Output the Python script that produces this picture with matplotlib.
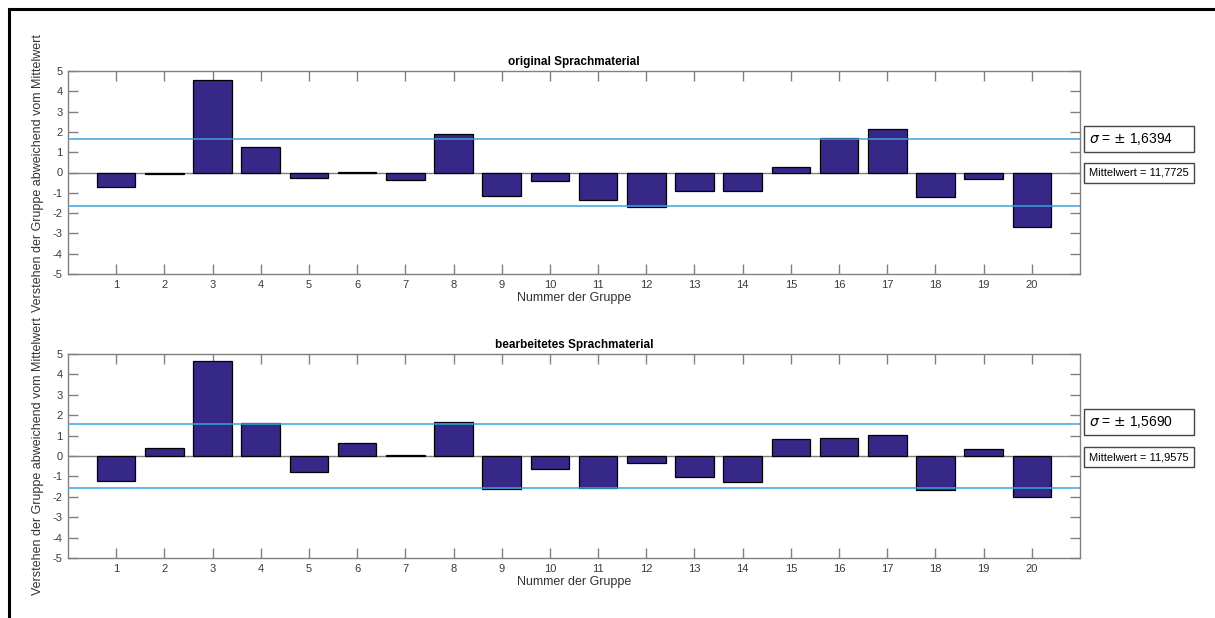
import matplotlib.pyplot as plt
from matplotlib.lines import Line2D

plt.rcParams['font.family'] = ['Liberation Sans', 'DejaVu Sans']
plt.rcParams['axes.unicode_minus'] = False

# Abweichung vom Mittelwert je Gruppe
gruppen = list(range(1, 21))
original = [-0.69, -0.08, 4.56, 1.28, -0.25, 0.03, -0.39, 1.92, -1.18, -0.44,
            -1.34, -1.72, -0.90, -0.90, 0.28, 1.72, 2.13, -1.23, -0.33, -2.69]
bearbeitet = [-1.22, 0.41, 4.65, 1.60, -0.78, 0.65, 0.05, 1.65, -1.63, -0.62,
              -1.57, -0.33, -1.01, -1.29, 0.82, 0.86, 1.04, -1.66, 0.36, -2.01]

titel = ['original Sprachmaterial', 'bearbeitetes Sprachmaterial']
sigma = [1.6394, 1.5690]
sigma_txt = ['1,6394', '1,5690']
mittel_txt = ['11,7725', '11,9575']

W, H = 1215, 618
fig = plt.figure(figsize=(W / 100, H / 100), dpi=100)

# Rahmen oben und links
fig.add_artist(Line2D([9 / W, 1], [1 - 9 / H, 1 - 9 / H], transform=fig.transFigure,
                      color='black', lw=2.2))
fig.add_artist(Line2D([9 / W, 9 / W], [0, 1 - 9 / H], transform=fig.transFigure,
                      color='black', lw=2.2))

achsen = [(71, 274), (354, 558)]
boxen = [(139, 173), (422, 457)]
daten = [original, bearbeitet]

grau = '#808080'
for i in range(2):
    top, bot = achsen[i]
    ax = fig.add_axes([68 / W, 1 - bot / H, 1012 / W, (bot - top) / H])
    ax.bar(gruppen, daten[i], width=0.8, color='#352887', edgecolor='black',
           linewidth=0.9, zorder=2)
    ax.axhline(0, color=grau, lw=1, zorder=1)
    ax.axhline(sigma[i], color='#3aa2dc', lw=1.1, zorder=3)
    ax.axhline(-sigma[i], color='#3aa2dc', lw=1.1, zorder=3)
    ax.set_xlim(0, 21)
    ax.set_ylim(-5, 5)
    ax.set_xticks(gruppen)
    ax.set_yticks(range(-5, 6))
    ax.tick_params(direction='in', length=7, width=1, color=grau, labelcolor='#3a3a3a',
                   labelsize=8, top=True, right=True, pad=4)
    for s in ax.spines.values():
        s.set_color(grau)
        s.set_linewidth(1)
    ax.set_title(titel[i], fontsize=8.5, fontweight='bold', pad=4)
    ax.set_xlabel('Nummer der Gruppe', fontsize=9, color='#333333', labelpad=2)
    ax.set_ylabel('Verstehen der Gruppe abweichend vom Mittelwert', fontsize=9,
                  color='#333333')
    ax.yaxis.set_label_coords(-0.024, 0.5)

    ys, ym = boxen[i]
    fig.text(1089 / W, 1 - ys / H, r'$\sigma$ = $\pm$ ' + sigma_txt[i] + '     ',
             fontsize=10, va='center', ha='left',
             bbox=dict(boxstyle='square,pad=0.35', fc='white', ec='#444444', lw=1))
    fig.text(1089 / W, 1 - ym / H, 'Mittelwert = ' + mittel_txt[i],
             fontsize=8, va='center', ha='left',
             bbox=dict(boxstyle='square,pad=0.45', fc='white', ec='#444444', lw=1))

fig.savefig('out.png', dpi=100)
